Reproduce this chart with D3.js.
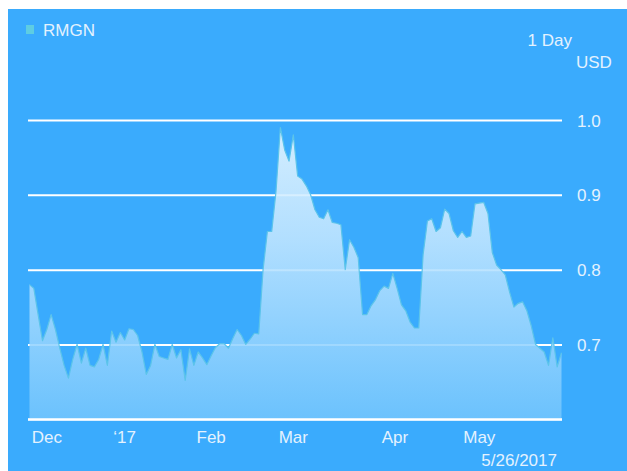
<!DOCTYPE html>
<html>
<head>
<meta charset="utf-8">
<script src="https://cdn.jsdelivr.net/npm/d3@7/dist/d3.min.js"></script>
<style>
  html, body { margin: 0; padding: 0; background: #ffffff; }
  svg { display: block; }
  text { font-family: "Liberation Sans", Arial, sans-serif; }
</style>
</head>
<body>
<svg id="chart" width="627" height="471"></svg>
<script>
// ---- data (daily closes, trading-day index 0..123) ----
const seriesName = "RMGN";
const values = [
  0.780, 0.775, 0.740, 0.705, 0.720, 0.740, 0.720, 0.695, 0.672, 0.655,
  0.680, 0.700, 0.675, 0.695, 0.672, 0.670, 0.680, 0.700, 0.672, 0.718,
  0.703, 0.716, 0.706, 0.721, 0.720, 0.712, 0.690, 0.660, 0.672, 0.700,
  0.684, 0.682, 0.680, 0.700, 0.682, 0.693, 0.652, 0.694, 0.672, 0.690,
  0.682, 0.673, 0.685, 0.696, 0.701, 0.701, 0.695, 0.708, 0.720, 0.712,
  0.700, 0.707, 0.715, 0.714, 0.800, 0.851, 0.851, 0.905, 0.990, 0.960,
  0.945, 0.980, 0.925, 0.921, 0.912, 0.900, 0.880, 0.870, 0.868, 0.880,
  0.863, 0.862, 0.860, 0.800, 0.840, 0.830, 0.816, 0.740, 0.740, 0.752,
  0.760, 0.772, 0.778, 0.775, 0.795, 0.775, 0.753, 0.745, 0.730, 0.722,
  0.722, 0.820, 0.865, 0.868, 0.851, 0.856, 0.881, 0.875, 0.852, 0.843,
  0.851, 0.843, 0.845, 0.888, 0.889, 0.890, 0.875, 0.823, 0.806, 0.800,
  0.793, 0.770, 0.750, 0.755, 0.757, 0.745, 0.725, 0.700, 0.695, 0.690,
  0.672, 0.709, 0.670, 0.689
];
const xTickLabels = ["Dec", "\u201817", "Feb", "Mar", "Apr", "May"];
const xTickIndex  = [4, 22, 42, 61, 84.5, 104];
const yTicks = [0.6, 0.7, 0.8, 0.9, 1.0];
const periodLabel = "1 Day";
const unitLabel = "USD";
const dateLabel = "5/26/2017";

// ---- layout ----
const svg = d3.select("#chart");
const bg = "#3aabfd";
const textColor = "#e4f2fe";

svg.append("rect").attr("x", 8).attr("y", 9).attr("width", 619).attr("height", 462).attr("fill", bg);

const x = d3.scaleLinear().domain([0, values.length - 1]).range([29.5, 561.5]);
const y = d3.scaleLinear().domain([0.6, 1.0]).range([419.3, 120]);

// gradient
const defs = svg.append("defs");
const grad = defs.append("linearGradient").attr("id", "areaGrad")
  .attr("gradientUnits", "userSpaceOnUse")
  .attr("x1", 0).attr("y1", y(1.0)).attr("x2", 0).attr("y2", y(0.6));
grad.append("stop").attr("offset", "0%").attr("stop-color", "#ecf8ff");
grad.append("stop").attr("offset", "40%").attr("stop-color", "#c2e6ff");
grad.append("stop").attr("offset", "100%").attr("stop-color", "#72c5fd");

// gridlines + y labels via axis
const yAxis = d3.axisRight(y).tickValues(yTicks).tickSize(-534).tickPadding(15)
  .tickFormat(d => d === 0.6 ? "" : d3.format(".1f")(d));
const gy = svg.append("g").attr("transform", "translate(562,0)").call(yAxis);
gy.select(".domain").remove();
gy.selectAll(".tick line").attr("stroke", "#ffffff").attr("stroke-width", 2);
gy.selectAll(".tick text").attr("fill", textColor).attr("font-size", 17)
  .attr("dy", "0.36em");

// area
const area = d3.area().x((d, i) => x(i)).y0(y(0.6)).y1(d => y(d));
const line = d3.line().x((d, i) => x(i)).y(d => y(d));
svg.append("path").datum(values).attr("d", area)
  .attr("fill", "url(#areaGrad)").attr("fill-opacity", 0.88);
svg.append("path").datum(values).attr("d", line)
  .attr("fill", "none").attr("stroke", "#5cc4ea").attr("stroke-width", 1.2)
  .attr("stroke-linejoin", "round");

// baseline redraw on top
svg.append("line").attr("x1", 28).attr("x2", 562).attr("y1", y(0.6)).attr("y2", y(0.6))
  .attr("stroke", "#ffffff").attr("stroke-width", 2);

// x labels
svg.append("g").selectAll("text").data(xTickLabels).join("text")
  .attr("x", (d, i) => x(xTickIndex[i])).attr("y", 443)
  .attr("text-anchor", "middle").attr("font-size", 17).attr("fill", textColor)
  .text(d => d);

// legend
svg.append("rect").attr("x", 26).attr("y", 25).attr("width", 8).attr("height", 9).attr("fill", "#5ecde2");
svg.append("text").attr("x", 43).attr("y", 36).attr("font-size", 17).attr("fill", textColor).text(seriesName);

svg.append("text").attr("x", 572).attr("y", 46).attr("text-anchor", "end").attr("font-size", 17).attr("fill", textColor).text(periodLabel);
svg.append("text").attr("x", 576).attr("y", 68).attr("text-anchor", "start").attr("font-size", 17).attr("fill", textColor).text(unitLabel);
svg.append("text").attr("x", 557).attr("y", 466).attr("text-anchor", "end").attr("font-size", 17).attr("fill", textColor).text(dateLabel);
</script>
</body>
</html>
